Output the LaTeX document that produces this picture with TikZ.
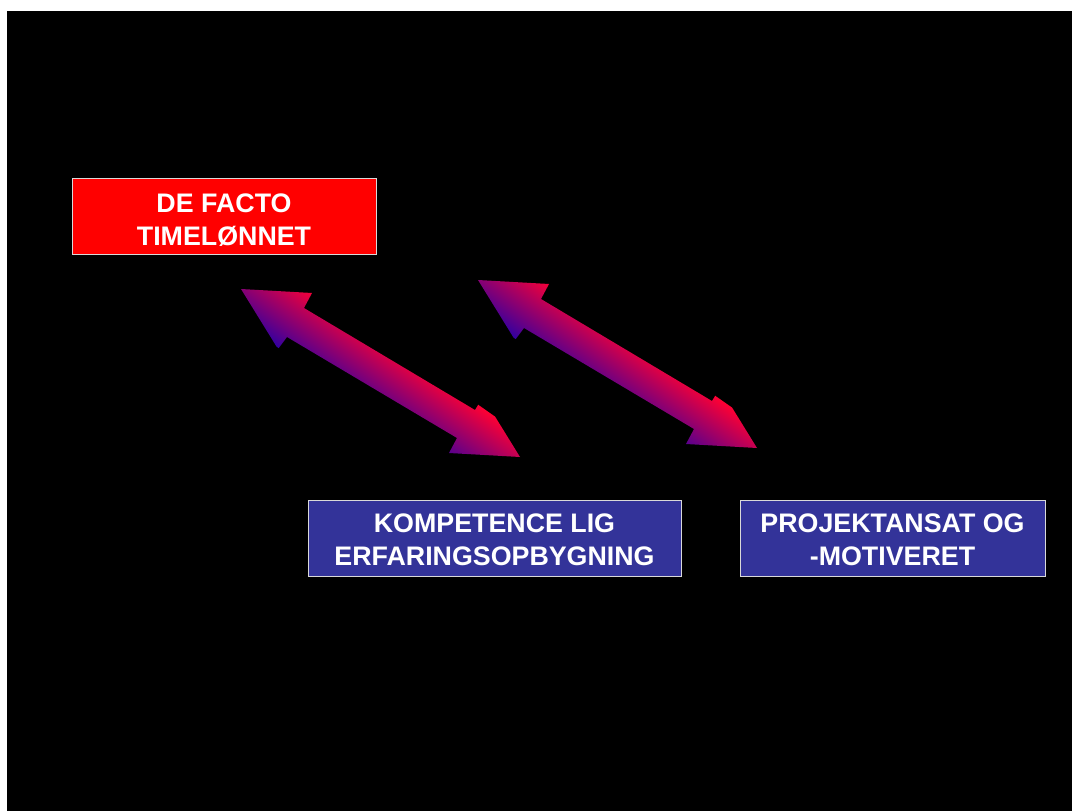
\documentclass[tikz,border=0pt]{standalone}
\usepackage{fontspec}
\setmainfont{Liberation Sans}
\definecolor{boxblue}{HTML}{333399}
\definecolor{arrred}{HTML}{FF0033}
\definecolor{arrblue}{HTML}{3300A0}
\newcommand{\lift}[1]{\rule{0pt}{#1}}
\begin{document}
\begin{tikzpicture}[x=1pt,y=-1pt,
  box/.style={draw=white!85!black, line width=0.8pt, inner sep=0pt,
    minimum height=76pt, text=white, align=center,
    font=\fontsize{26.8}{33}\selectfont\bfseries},
  dblshade/.style={top color=arrred, bottom color=arrblue}]
\useasboundingbox (0,0) rectangle (1072,811);
\fill[white] (0,0) rectangle (1072,811);
\fill[black] (7,11) rectangle (1072,811);

\node[box, fill=red, minimum width=304pt] (a) at (224,216.5) {\lift{25.2pt}DE FACTO\\TIMELØNNET};
\node[box, fill=boxblue, minimum width=373pt] (b) at (494.5,538) {\lift{21.5pt}KOMPETENCE LIG\\ERFARINGSOPBYGNING};
\node[box, fill=boxblue, minimum width=305pt] (c) at (892.5,538) {\lift{21.5pt}PROJEKTANSAT OG\\-MOTIVERET};

\foreach \sx/\sy in {0/0, 237/-9}{
  \begin{scope}
    \clip[shift={(\sx,\sy)}] (241,289) -- (312,293) -- (304,308) -- (475,410) -- (483,397)
      -- (520,457) -- (449,453) -- (457,438) -- (287,337) -- (278,349) -- cycle;
    \begin{scope}[transform canvas={shift={({380.5+\sx},{373+\sy})}, rotate=-35}]
      \shade[dblshade] (-300pt,-38pt) rectangle (300pt,30pt);
    \end{scope}
  \end{scope}
}
\end{tikzpicture}
\end{document}
